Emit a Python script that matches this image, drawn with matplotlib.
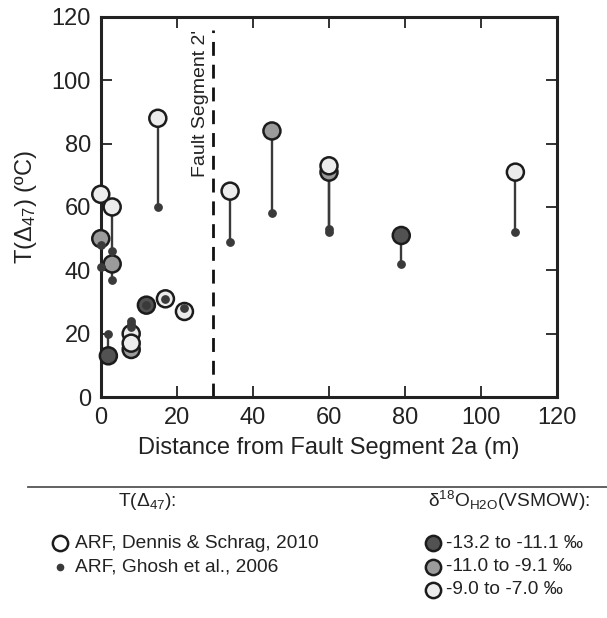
import numpy as np
import matplotlib.pyplot as plt
from matplotlib.lines import Line2D

plt.rcParams['font.family'] = ['Liberation Sans', 'DejaVu Sans']
plt.rcParams['mathtext.fontset'] = 'custom'
plt.rcParams['mathtext.rm'] = 'Liberation Sans'
plt.rcParams['mathtext.it'] = 'Liberation Sans:italic'
plt.rcParams['mathtext.bf'] = 'Liberation Sans:bold'

# clumped isotope temperatures vs distance from the fault
distance = [0, 0, 3, 3, 2, 15, 8, 8, 8, 12, 17, 22, 34, 45, 60, 60, 79, 109]
t_dennis = [64, 50, 60, 42, 13, 88, 20, 15, 17, 29, 31, 27, 65, 84, 71, 73, 51, 71]
t_ghosh = [41, 48, 46, 37, 20, 60, 24, 22, 23, 29, 31, 28, 49, 58, 52, 53, 42, 52]
d18o_group = ['light', 'medium', 'light', 'medium', 'dark', 'light', 'light', 'medium', 'light',
              'dark', 'light', 'light', 'light', 'medium', 'medium', 'light', 'dark', 'light']

group_colors = {'dark': '#525252', 'medium': '#9b9b9b', 'light': '#ececec'}
group_labels = {'dark': '-13.2 to -11.1 ‰', 'medium': '-11.0 to -9.1 ‰', 'light': '-9.0 to -7.0 ‰'}
fault_x = 29.5

fig = plt.figure(figsize=(6.07, 6.18), dpi=100)
ax = fig.add_axes([0.166, 0.3576, 0.752, 0.615])

edge = '#1c1c1c'
stem = '#3a3a3a'

ax.vlines(distance, t_ghosh, t_dennis, colors=stem, lw=1.7, zorder=2)
ax.scatter(distance, t_dennis, s=150, c=[group_colors[g] for g in d18o_group],
           edgecolors=edge, linewidths=1.8, zorder=3, clip_on=False)
ax.scatter(distance, t_ghosh, s=28, c=stem, zorder=4, clip_on=False)

ax.plot([fault_x, fault_x], [0, 116], color='#111111', lw=2.0, ls=(0, (5, 3.2)), zorder=1)
ax.text(fault_x - 3.3, 116, "Fault Segment 2'", rotation=90, ha='center', va='top',
        fontsize=14, color='#222222')

ax.set_xlim(0, 120)
ax.set_ylim(0, 120)
ax.set_xticks(np.arange(0, 121, 20))
ax.set_yticks(np.arange(0, 121, 20))
ax.tick_params(direction='in', length=8, width=1.3, top=True, right=True,
               labelsize=17, pad=7, color='#222222', labelcolor='#222222')
for s in ax.spines.values():
    s.set_linewidth(2.2)
    s.set_color('#222222')

ax.set_xlabel('Distance from Fault Segment 2a (m)', fontsize=17, color='#222222', labelpad=6)
ax.set_ylabel('T(Δ$_{47}$) (ºC)', fontsize=17, color='#222222', labelpad=9)

# legend drawn in figure pixel coordinates
lg = fig.add_axes([0, 0, 1, 1], zorder=-1)
lg.set_xlim(0, 607)
lg.set_ylim(618, 0)
lg.axis('off')

lg.add_line(Line2D([28, 607], [486.5, 486.5], color='#555555', lw=1.3))

fs = 13.8
lg.text(147, 501, 'T(Δ$_{47}$):', ha='center', va='center', fontsize=fs, color='#222222')
lg.plot(60, 543, 'o', ms=11, mfc='white', mec=edge, mew=1.8)
lg.text(75, 543, 'ARF, Dennis & Schrag, 2010', va='center', fontsize=fs, color='#222222')
lg.plot(60, 567, 'o', ms=4.5, color=stem)
lg.text(75, 567, 'ARF, Ghosh et al., 2006', va='center', fontsize=fs, color='#222222')

lg.text(428, 501, 'δ$^{18}$O$_{\\mathrm{H2O}}$(VSMOW):', ha='left', va='center', fontsize=fs,
        color='#222222')
for i, g in enumerate(['dark', 'medium', 'light']):
    y = 543 + i * 23.5
    lg.plot(433, y, 'o', ms=11, mfc=group_colors[g], mec=edge, mew=1.8)
    lg.text(446, y, group_labels[g], va='center', fontsize=fs, color='#222222')

fig.savefig('out.png', dpi=100)
